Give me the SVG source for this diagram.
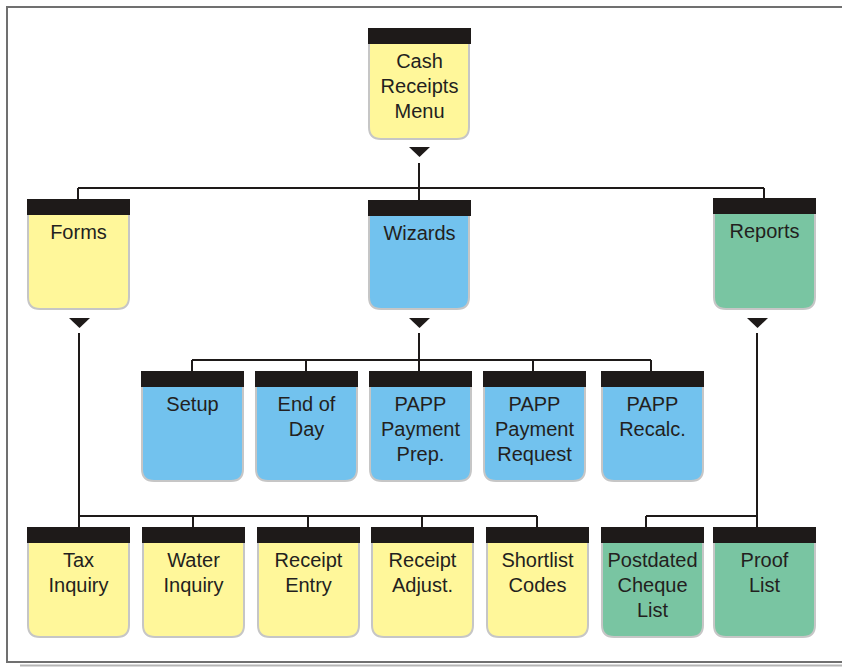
<svg xmlns="http://www.w3.org/2000/svg" width="842" height="667" viewBox="0 0 842 667">
<defs>
<style>
.frame{fill:none;stroke:#707070;stroke-width:2}
.shadow{fill:none;stroke:#b4b4b4;stroke-width:2}
.body{stroke:#c6c6c6;stroke-width:2}
.y{fill:#fff79a}
.b{fill:#72c2ee}
.g{fill:#79c5a2}
.bar{fill:#1e1a19}
.t{font-family:"Liberation Sans",Arial,sans-serif;font-size:20px;fill:#231f20;text-anchor:middle}
.c{fill:none;stroke:#1e1a19;stroke-width:2}
.tri{fill:#1e1a19}
</style>
</defs>
<rect width="842" height="667" fill="#ffffff"/>
<path class="shadow" d="M20 665.5 H842"/>
<path class="frame" d="M842 7 H7 V662 H842"/>

<g id="connectors">
<polygon class="tri" points="409,147 430,147 419.5,157"/>
<path class="c" d="M419 163 V200 M78 188 H764 M78 188 V199 M764 188 V198"/>
<polygon class="tri" points="69,318 90,318 79.5,328"/>
<path class="c" d="M79 333 V527 M79 516 H537 M193 516 V527 M308 516 V527 M422 516 V527 M537 516 V527"/>
<polygon class="tri" points="409,318 430,318 419.5,328"/>
<path class="c" d="M419 333 V371 M192 360 H651 M192 360 V371 M306 360 V371 M533 360 V371 M651 360 V371"/>
<polygon class="tri" points="747,318 768,318 757.5,328"/>
<path class="c" d="M757 333 V527 M646 516 H757 M646 516 V527"/>
</g>

<g id="cash">
<path class="body y" d="M369 40 V127 Q369 139 381 139 H457 Q469 139 469 127 V40 Z"/>
<rect class="bar" x="368" y="28" width="103" height="16"/>
<text class="t" x="419.5" y="68">Cash</text>
<text class="t" x="419.5" y="93">Receipts</text>
<text class="t" x="419.5" y="118">Menu</text>
</g>

<g id="forms">
<path class="body y" d="M28 210 V297 Q28 309 40 309 H117 Q129 309 129 297 V210 Z"/>
<rect class="bar" x="27" y="199" width="103" height="16"/>
<text class="t" x="78.5" y="239">Forms</text>
</g>

<g id="wizards">
<path class="body b" d="M369 210 V297 Q369 309 381 309 H457 Q469 309 469 297 V210 Z"/>
<rect class="bar" x="368" y="200" width="103" height="16"/>
<text class="t" x="419.5" y="240">Wizards</text>
</g>

<g id="reports">
<path class="body g" d="M714 210 V297 Q714 309 726 309 H803 Q815 309 815 297 V210 Z"/>
<rect class="bar" x="713" y="198" width="103" height="16"/>
<text class="t" x="764.5" y="238">Reports</text>
</g>

<g id="setup">
<path class="body b" d="M142 382 V469 Q142 481 154 481 H231 Q243 481 243 469 V382 Z"/>
<rect class="bar" x="141" y="371" width="103" height="16"/>
<text class="t" x="192.5" y="411">Setup</text>
</g>

<g id="endofday">
<path class="body b" d="M256 382 V469 Q256 481 268 481 H345 Q357 481 357 469 V382 Z"/>
<rect class="bar" x="255" y="371" width="103" height="16"/>
<text class="t" x="306.5" y="411">End of</text>
<text class="t" x="306.5" y="436">Day</text>
</g>

<g id="paymentprep">
<path class="body b" d="M370 382 V469 Q370 481 382 481 H459 Q471 481 471 469 V382 Z"/>
<rect class="bar" x="369" y="371" width="103" height="16"/>
<text class="t" x="420.5" y="411">PAPP</text>
<text class="t" x="420.5" y="436">Payment</text>
<text class="t" x="420.5" y="461">Prep.</text>
</g>

<g id="paymentrequest">
<path class="body b" d="M484 382 V469 Q484 481 496 481 H573 Q585 481 585 469 V382 Z"/>
<rect class="bar" x="483" y="371" width="103" height="16"/>
<text class="t" x="534.5" y="411">PAPP</text>
<text class="t" x="534.5" y="436">Payment</text>
<text class="t" x="534.5" y="461">Request</text>
</g>

<g id="recalc">
<path class="body b" d="M602 382 V469 Q602 481 614 481 H691 Q703 481 703 469 V382 Z"/>
<rect class="bar" x="601" y="371" width="103" height="16"/>
<text class="t" x="652.5" y="411">PAPP</text>
<text class="t" x="652.5" y="436">Recalc.</text>
</g>

<g id="taxinquiry">
<path class="body y" d="M28 538 V625 Q28 637 40 637 H117 Q129 637 129 625 V538 Z"/>
<rect class="bar" x="27" y="527" width="103" height="16"/>
<text class="t" x="78.5" y="567">Tax</text>
<text class="t" x="78.5" y="592">Inquiry</text>
</g>

<g id="waterinquiry">
<path class="body y" d="M143 538 V625 Q143 637 155 637 H232 Q244 637 244 625 V538 Z"/>
<rect class="bar" x="142" y="527" width="103" height="16"/>
<text class="t" x="193.5" y="567">Water</text>
<text class="t" x="193.5" y="592">Inquiry</text>
</g>

<g id="receiptentry">
<path class="body y" d="M258 538 V625 Q258 637 270 637 H347 Q359 637 359 625 V538 Z"/>
<rect class="bar" x="257" y="527" width="103" height="16"/>
<text class="t" x="308.5" y="567">Receipt</text>
<text class="t" x="308.5" y="592">Entry</text>
</g>

<g id="receiptadjust">
<path class="body y" d="M372 538 V625 Q372 637 384 637 H461 Q473 637 473 625 V538 Z"/>
<rect class="bar" x="371" y="527" width="103" height="16"/>
<text class="t" x="422.5" y="567">Receipt</text>
<text class="t" x="422.5" y="592">Adjust.</text>
</g>

<g id="shortlistcodes">
<path class="body y" d="M487 538 V625 Q487 637 499 637 H576 Q588 637 588 625 V538 Z"/>
<rect class="bar" x="486" y="527" width="103" height="16"/>
<text class="t" x="537.5" y="567">Shortlist</text>
<text class="t" x="537.5" y="592">Codes</text>
</g>

<g id="postdated">
<path class="body g" d="M602 538 V625 Q602 637 614 637 H691 Q703 637 703 625 V538 Z"/>
<rect class="bar" x="601" y="527" width="103" height="16"/>
<text class="t" x="652.5" y="567">Postdated</text>
<text class="t" x="652.5" y="592">Cheque</text>
<text class="t" x="652.5" y="617">List</text>
</g>

<g id="prooflist">
<path class="body g" d="M714 538 V625 Q714 637 726 637 H803 Q815 637 815 625 V538 Z"/>
<rect class="bar" x="713" y="527" width="103" height="16"/>
<text class="t" x="764.5" y="567">Proof</text>
<text class="t" x="764.5" y="592">List</text>
</g>
</svg>
